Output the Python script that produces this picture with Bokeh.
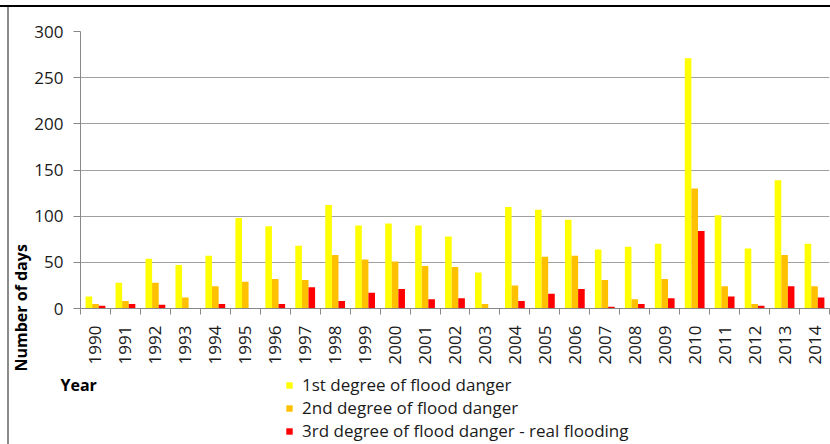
import math
from bokeh.plotting import figure
from bokeh.models import (Range1d, FixedTicker, Legend, LegendItem, Label,
                          ColumnDataSource, Title, InlineStyleSheet)
from bokeh.transform import dodge
from bokeh.embed import file_html
from bokeh.resources import INLINE

years = [str(y) for y in range(1990, 2015)]
first_degree = [13, 28, 54, 47, 57, 98, 89, 68, 112, 90, 92, 90, 78, 39, 110,
                107, 96, 64, 67, 70, 271, 101, 65, 139, 70]
second_degree = [5, 8, 28, 12, 24, 29, 32, 31, 58, 53, 51, 46, 45, 5, 25,
                 56, 57, 31, 10, 32, 130, 24, 5, 58, 24]
third_degree = [3, 5, 4, 0, 5, 0, 5, 23, 8, 17, 21, 10, 11, 0, 8,
                16, 21, 2, 5, 11, 84, 13, 3, 24, 12]
series_names = ["1st degree of flood danger", "2nd degree of flood danger",
                "3rd degree of flood danger - real flooding"]
colors = ["#FFFF00", "#FFC000", "#FF0000"]
y_ticks = [0, 50, 100, 150, 200, 250, 300]

FONT = "Open Sans"
TXT = "#1a1a1a"
idx = list(range(len(years)))
src = ColumnDataSource(dict(x=idx, a=first_degree, b=second_degree, c=third_degree))

# page frame lines of the source document (overlay, no layout effect)
frame_css_main = InlineStyleSheet(css="""
:host::before { content: ''; position: absolute; left: 0; top: 5px;
                width: 830px; height: 2px; background: #000; z-index: 10; pointer-events: none; }
:host::after  { content: ''; position: absolute; left: 7px; top: 7px;
                width: 2px; bottom: 0; background: #8c8c8c; z-index: 10; pointer-events: none; }
""")
frame_css_strip = InlineStyleSheet(css="""
:host::after  { content: ''; position: absolute; left: 7px; top: 0;
                width: 2px; bottom: 0; background: #8c8c8c; z-index: 10; pointer-events: none; }
""")

# ---------------- main chart ----------------
p = figure(width=830, height=371, output_backend="svg", toolbar_location=None,
           x_range=Range1d(-0.5, len(years) - 0.5), y_range=Range1d(0, 300),
           min_border_left=80, min_border_right=1, min_border_top=31,
           min_border_bottom=63)
p.outline_line_color = None
p.stylesheets = [frame_css_main]

w = 0.22
for col, off, c in zip(["a", "b", "c"], [-w, 0, w], colors):
    p.vbar(x=dodge("x", off, range=p.x_range), top=col, width=w, source=src,
           fill_color=c, line_color=None)

p.xgrid.grid_line_color = None
p.ygrid.grid_line_color = "#A0A0A0"
p.ygrid.ticker = FixedTicker(ticks=y_ticks)

xa = p.xaxis[0]
xa.ticker = FixedTicker(ticks=idx, minor_ticks=[i - 0.5 for i in range(len(years) + 1)])
xa.major_label_overrides = {i: years[i] for i in idx}
xa.major_label_orientation = math.pi / 2
xa.major_tick_out = 0
xa.major_tick_in = 0
xa.minor_tick_out = 6
xa.minor_tick_in = 0
xa.minor_tick_line_color = "#888888"
xa.axis_line_color = "#888888"
xa.major_label_standoff = 11
xa.major_label_text_font = FONT
xa.major_label_text_font_size = "17px"
xa.major_label_text_color = TXT

ya = p.yaxis[0]
ya.ticker = FixedTicker(ticks=y_ticks)
ya.major_tick_out = 7
ya.major_tick_in = 0
ya.minor_tick_out = 0
ya.minor_tick_in = 0
ya.major_tick_line_color = "#888888"
ya.axis_line_color = "#888888"
ya.major_label_standoff = 10
ya.major_label_text_font = FONT
ya.major_label_text_font_size = "17px"
ya.major_label_text_color = TXT

p.add_layout(Title(text="Number of days", align="left", offset=-63, standoff=0,
                   text_font=FONT, text_font_style="bold",
                   text_font_size="16px", text_color="black"), "left")

# ---------------- legend strip (separate root below) ----------------
p2 = figure(width=830, height=73, output_backend="svg", toolbar_location=None,
            x_range=Range1d(-0.5, len(years) - 0.5), y_range=Range1d(1000, 1001),
            x_axis_location=None, y_axis_location=None, min_border=0,
            min_border_left=0, min_border_right=0, min_border_top=0,
            min_border_bottom=0)
p2.outline_line_color = None
p2.grid.grid_line_color = None
p2.stylesheets = [frame_css_strip]

legend_y = [48, 25, 2]
for name, col, c, ly in zip(series_names, ["a", "b", "c"], colors, legend_y):
    r = p2.vbar(x="x", top=col, width=w, source=src, fill_color=c, line_color=None)
    r.visible = False
    lg = Legend(items=[LegendItem(label=name, renderers=[r])], location=(285, ly),
                orientation="vertical", click_policy="none",
                glyph_width=8, glyph_height=8, label_standoff=9,
                label_height=14, spacing=0, padding=0, margin=0,
                border_line_color=None, background_fill_alpha=0,
                label_text_font=FONT, label_text_font_size="17px",
                label_text_color=TXT, label_text_baseline="middle")
    p2.add_layout(lg, "center")

p2.add_layout(Label(x=60, y=60, x_units="screen", y_units="screen",
                    text="Year", text_align="left", text_baseline="alphabetic",
                    text_font=FONT, text_font_style="bold",
                    text_font_size="16px", text_color="black"))

open("out.html", "w").write(file_html([p, p2], INLINE))
